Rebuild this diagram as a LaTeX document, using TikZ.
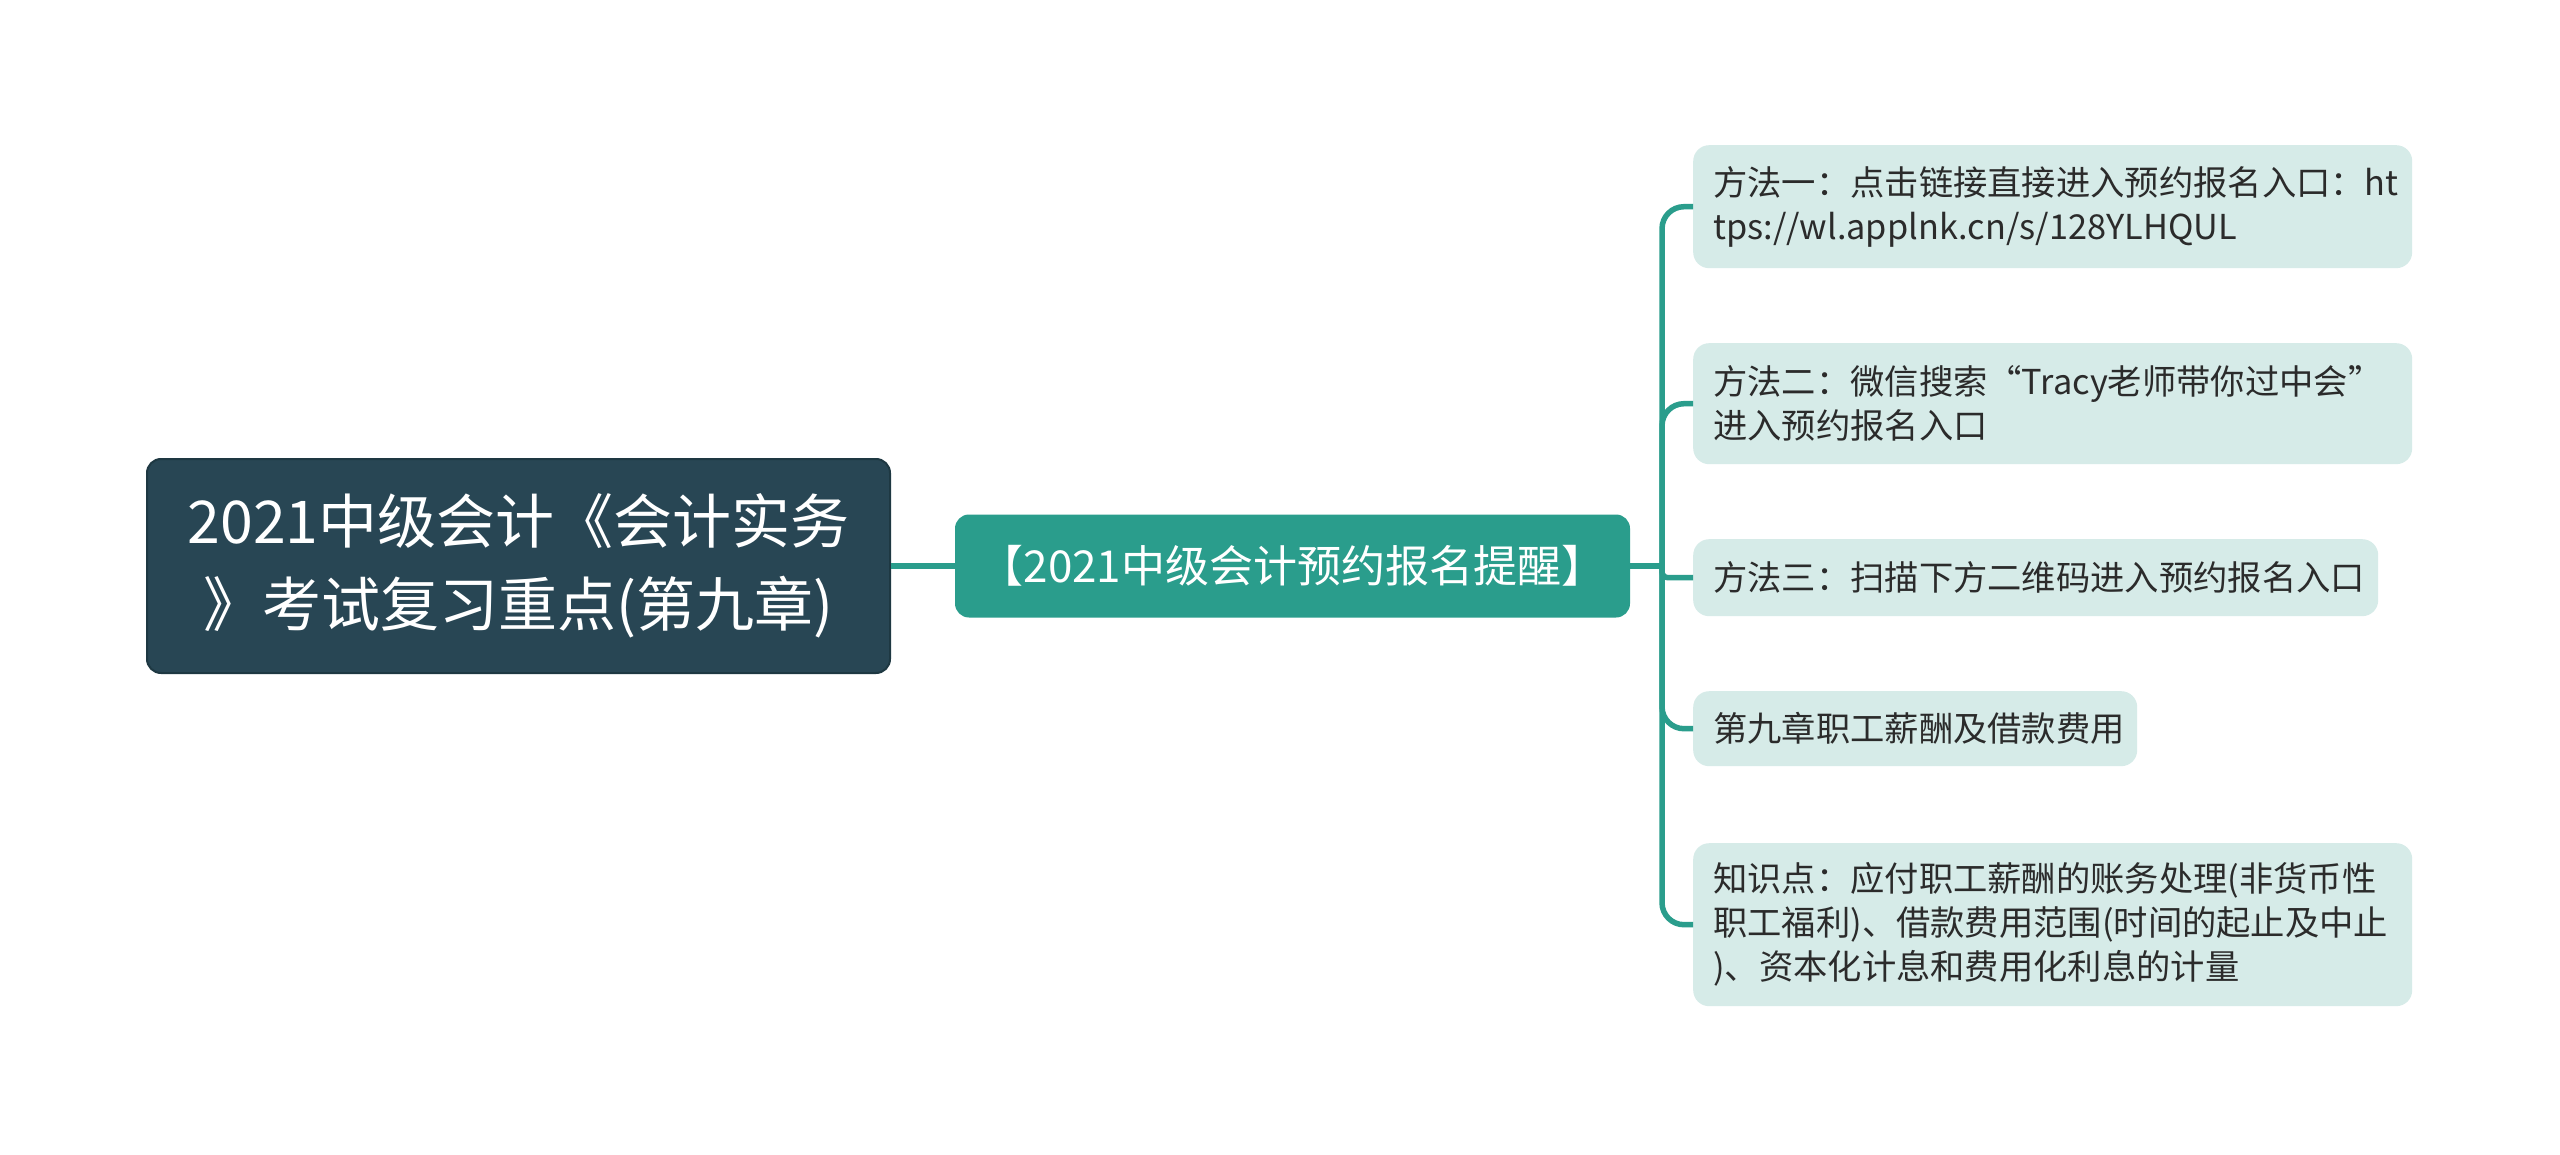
\documentclass[tikz,border=0pt]{standalone}
\usepackage{fontspec}
\setmainfont{Noto Sans CJK SC}
\definecolor{rootfill}{HTML}{284654}
\definecolor{rootline}{HTML}{1E3842}
\definecolor{midfill}{HTML}{2A9D8C}
\definecolor{leaffill}{HTML}{D6EBE8}
\definecolor{linkc}{HTML}{2A9D8C}
\definecolor{leaftext}{HTML}{2B2B2B}
\begin{document}
\begin{tikzpicture}[x=1pt,y=-1pt,
  rootbox/.style={draw=rootline, line width=2, fill=rootfill, rounded corners=14, text=white,
    align=center, inner sep=0, font=\fontsize{59}{83}\selectfont},
  midbox/.style={fill=midfill, rounded corners=14, text=white, inner sep=0,
    font=\fontsize{44}{52}\selectfont},
  leafbox/.style={fill=leaffill, rounded corners=16, text=leaftext, anchor=north west,
    inner xsep=20, inner ysep=0, align=left, font=\fontsize{34.3}{44}\selectfont},
  link/.style={draw=linkc, line width=5.5},
]
\useasboundingbox (0,0) rectangle (2560,1155);
\fill[white] (0,0) rectangle (2560,1155);

\node[rootbox, minimum width=743, minimum height=214] (root) at (518.5,566)
  {2021中级会计《会计实务\\》考试复习重点(第九章)};
\node[midbox, minimum width=675, minimum height=103] (mid) at (1292.5,566)
  {【2021中级会计预约报名提醒】};

\node[leafbox, text width=679, minimum height=123] (l1) at (1693,145)
  {方法一：点击链接直接进入预约报名入口：ht\\tps://wl.applnk.cn/s/128YLHQUL};
\node[leafbox, text width=679, minimum height=121] (l2) at (1693,343)
  {方法二：微信搜索“Tracy老师带你过中会”\\进入预约报名入口};
\node[leafbox, text width=645, minimum height=77] (l3) at (1693,539)
  {方法三：扫描下方二维码进入预约报名入口};
\node[leafbox, text width=404, minimum height=75] (l4) at (1693,691)
  {第九章职工薪酬及借款费用};
\node[leafbox, text width=679, minimum height=163] (l5) at (1693,843)
  {知识点：应付职工薪酬的账务处理(非货币性\\职工福利)、借款费用范围(时间的起止及中止\\)、资本化计息和费用化利息的计量};

\coordinate (trunk) at (1662,566);
\draw[link] (root.east) -- (mid.west);
\draw[link] (mid.east) -- (trunk);
\draw[link, rounded corners=22] (trunk) |- (l1.west);
\draw[link, rounded corners=22] (trunk) |- (l2.west);
\draw[link, rounded corners=6] (trunk) |- (l3.west);
\draw[link, rounded corners=22] (trunk) |- (l4.west);
\draw[link, rounded corners=22] (trunk) |- (l5.west);
\end{tikzpicture}
\end{document}
